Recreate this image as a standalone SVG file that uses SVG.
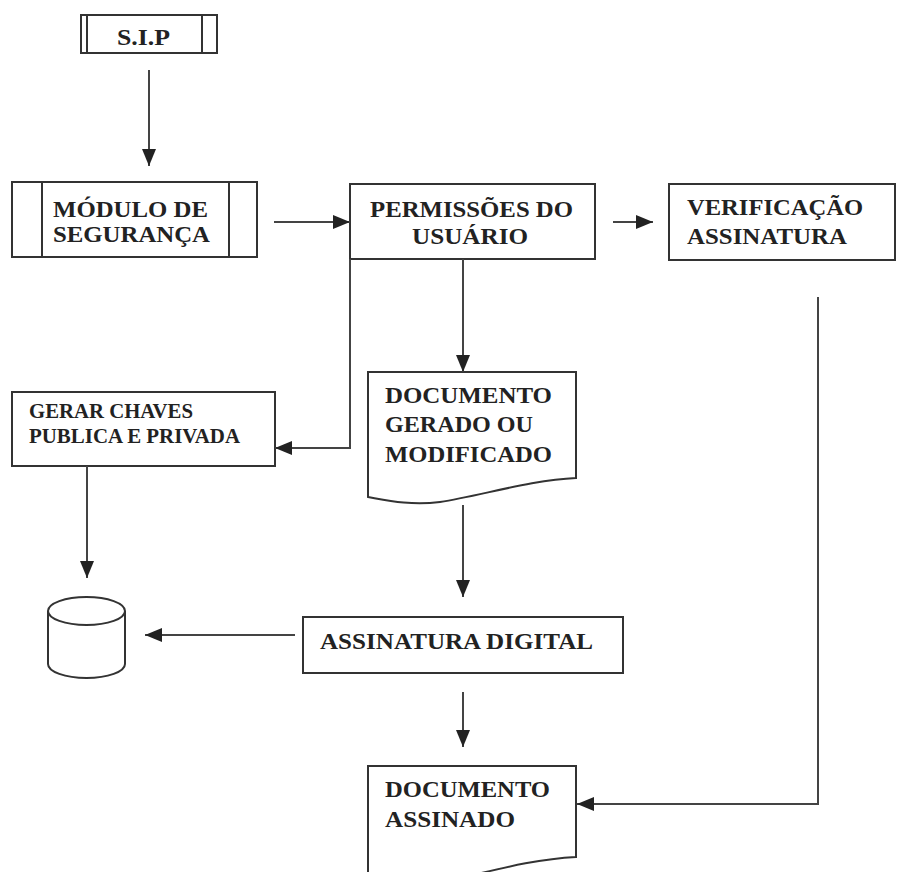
<svg xmlns="http://www.w3.org/2000/svg" width="902" height="872" viewBox="0 0 902 872">
<defs>
<marker id="ah" markerWidth="17" markerHeight="14" refX="17" refY="7" orient="auto" markerUnits="userSpaceOnUse">
<polygon points="0,0 17,7 0,14" fill="#222"/>
</marker>
<style>
.box{fill:#fff;stroke:#333;stroke-width:2}
.ln{fill:none;stroke:#333;stroke-width:2}
.c{fill:none;stroke:#444;stroke-width:2;marker-end:url(#ah)}
.t{font-family:"Liberation Serif","Times New Roman",serif;font-weight:bold;font-size:24px;fill:#222}
.ts{font-family:"Liberation Serif","Times New Roman",serif;font-weight:bold;font-size:20px;fill:#222}
</style>
</defs>
<rect width="902" height="872" fill="#fff"/>

<g id="sip">
<rect class="box" x="81" y="15" width="136" height="38"/>
<line class="ln" x1="87" y1="15" x2="87" y2="53"/>
<line class="ln" x1="202" y1="15" x2="202" y2="53"/>
<text class="t" x="117" y="45" textLength="53" lengthAdjust="spacingAndGlyphs">S.I.P</text>
</g>

<g id="modulo">
<rect class="box" x="12" y="182" width="245" height="75"/>
<line class="ln" x1="42" y1="182" x2="42" y2="257"/>
<line class="ln" x1="229" y1="182" x2="229" y2="257"/>
<text class="t" x="53" y="217" textLength="155" lengthAdjust="spacingAndGlyphs">MÓDULO DE</text>
<text class="t" x="53" y="242" textLength="157" lengthAdjust="spacingAndGlyphs">SEGURANÇA</text>
</g>

<g id="permissoes">
<rect class="box" x="350" y="184" width="245" height="75"/>
<text class="t" x="370" y="217" textLength="203" lengthAdjust="spacingAndGlyphs">PERMISSÕES DO</text>
<text class="t" x="412" y="244" textLength="116" lengthAdjust="spacingAndGlyphs">USUÁRIO</text>
</g>

<g id="verificacao">
<rect class="box" x="669" y="184" width="226" height="76"/>
<text class="t" x="687" y="215" textLength="176" lengthAdjust="spacingAndGlyphs">VERIFICAÇÃO</text>
<text class="t" x="687" y="244" textLength="160" lengthAdjust="spacingAndGlyphs">ASSINATURA</text>
</g>

<g id="gerar">
<rect class="box" x="12" y="392" width="263" height="74"/>
<text class="ts" x="29" y="418" textLength="164" lengthAdjust="spacingAndGlyphs">GERAR CHAVES</text>
<text class="ts" x="29" y="443" textLength="211" lengthAdjust="spacingAndGlyphs">PUBLICA E PRIVADA</text>
</g>

<g id="documento-gerado">
<path class="box" d="M368,372 H576 V478 C530,480 480,496 440,502 C410,506 385,500 368,497 Z"/>
<text class="t" x="385" y="403" textLength="167" lengthAdjust="spacingAndGlyphs">DOCUMENTO</text>
<text class="t" x="385" y="432" textLength="148" lengthAdjust="spacingAndGlyphs">GERADO OU</text>
<text class="t" x="385" y="462" textLength="167" lengthAdjust="spacingAndGlyphs">MODIFICADO</text>
</g>

<g id="banco">
<path class="box" d="M48,611 V664 A38.5,14 0 0 0 125,664 V611"/>
<ellipse class="box" cx="86.5" cy="611" rx="38.5" ry="14"/>
</g>

<g id="assinatura-digital">
<rect class="box" x="303" y="617" width="320" height="56"/>
<text class="t" x="320" y="649" textLength="273" lengthAdjust="spacingAndGlyphs">ASSINATURA DIGITAL</text>
</g>

<g id="documento-assinado">
<path class="box" d="M368,766 H576 V857 C535,859 495,870 460,878 C420,884 385,880 368,876 Z"/>
<text class="t" x="385" y="797" textLength="165" lengthAdjust="spacingAndGlyphs">DOCUMENTO</text>
<text class="t" x="385" y="827" textLength="130" lengthAdjust="spacingAndGlyphs">ASSINADO</text>
</g>

<g id="connectors">
<line class="c" x1="149" y1="70" x2="149" y2="166"/>
<line class="c" x1="274" y1="222" x2="350" y2="222"/>
<line class="c" x1="613" y1="222" x2="653" y2="222"/>
<line class="c" x1="463" y1="259" x2="463" y2="372"/>
<polyline class="c" points="350,259 350,448 275,448"/>
<line class="c" x1="87" y1="466" x2="87" y2="578"/>
<line class="c" x1="463" y1="505" x2="463" y2="597"/>
<line class="c" x1="295" y1="635" x2="145" y2="635"/>
<line class="c" x1="463" y1="692" x2="463" y2="747"/>
<polyline class="c" points="818,297 818,804 577,804"/>
</g>
</svg>
